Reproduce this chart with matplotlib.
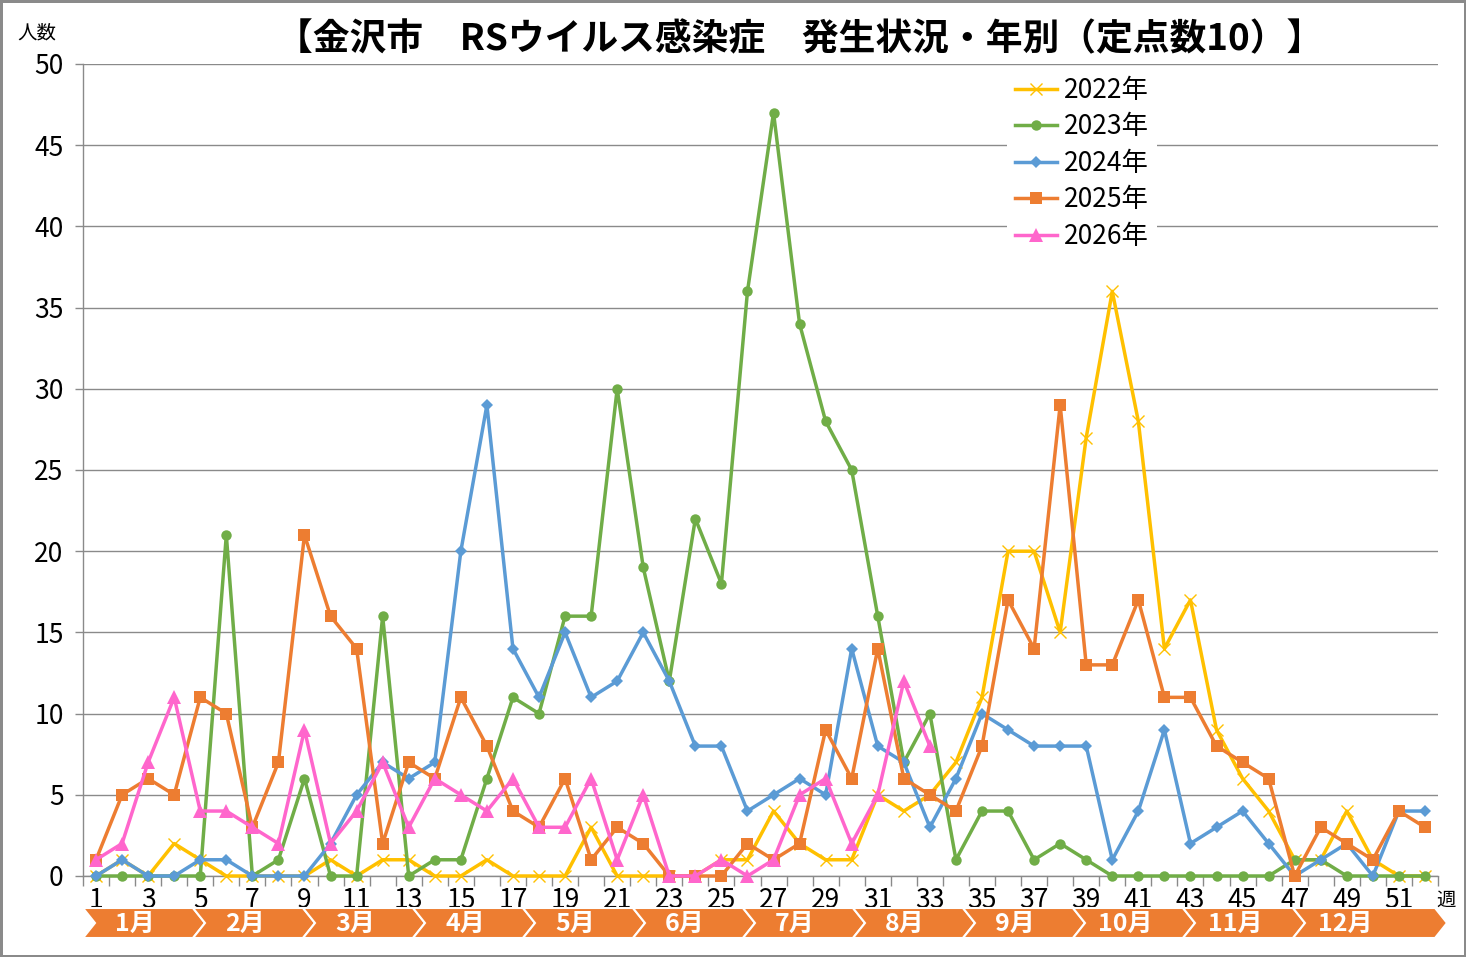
import numpy as np
import matplotlib
matplotlib.use("Agg")
import matplotlib.pyplot as plt
from matplotlib.patches import Polygon

plt.rcParams['font.family'] = ['Noto Sans CJK JP', 'DejaVu Sans']

# weekly case counts (week 1..52)
weeks = np.arange(1, 53)
cases_2022 = [0, 1, 0, 2, 1, 0, 0, 0, 0, 1, 0, 1, 1, 0, 0, 1, 0, 0, 0, 3,
              0, 0, 0, 0, 1, 1, 4, 2, 1, 1, 5, 4, 5, 7, 11, 20, 20, 15, 27, 36,
              28, 14, 17, 9, 6, 4, 1, 1, 4, 1, 0, 0]
cases_2023 = [0, 0, 0, 0, 0, 21, 0, 1, 6, 0, 0, 16, 0, 1, 1, 6, 11, 10, 16, 16,
              30, 19, 12, 22, 18, 36, 47, 34, 28, 25, 16, 7, 10, 1, 4, 4, 1, 2, 1, 0,
              0, 0, 0, 0, 0, 0, 1, 1, 0, 0, 0, 0]
cases_2024 = [0, 1, 0, 0, 1, 1, 0, 0, 0, 2, 5, 7, 6, 7, 20, 29, 14, 11, 15, 11,
              12, 15, 12, 8, 8, 4, 5, 6, 5, 14, 8, 7, 3, 6, 10, 9, 8, 8, 8, 1,
              4, 9, 2, 3, 4, 2, 0, 1, 2, 0, 4, 4]
cases_2025 = [1, 5, 6, 5, 11, 10, 3, 7, 21, 16, 14, 2, 7, 6, 11, 8, 4, 3, 6, 1,
              3, 2, 0, 0, 0, 2, 1, 2, 9, 6, 14, 6, 5, 4, 8, 17, 14, 29, 13, 13,
              17, 11, 11, 8, 7, 6, 0, 3, 2, 1, 4, 3]
cases_2026 = [1, 2, 7, 11, 4, 4, 3, 2, 9, 2, 4, 7, 3, 6, 5, 4, 6, 3, 3, 6,
              1, 5, 0, 0, 1, 0, 1, 5, 6, 2, 5, 12, 8]

series_labels = ['2022年', '2023年', '2024年', '2025年', '2026年']
month_labels = [f'{m}月' for m in range(1, 13)]
title = '【金沢市　RSウイルス感染症　発生状況・年別（定点数10）】'

W, H = 1466, 957
gray = '#8a8a8a'

fig = plt.figure(figsize=(W / 100, H / 100), dpi=100, linewidth=2.5, edgecolor=gray)
ax = fig.add_axes([83 / W, 1 - 876 / H, (1438 - 83) / W, (876 - 64) / H])

styles = [
    dict(color='#FFC000', marker='x', ms=8, mew=1.0),
    dict(color='#70AD47', marker='o', ms=7.5, mew=0),
    dict(color='#5B9BD5', marker='D', ms=6, mew=0),
    dict(color='#ED7D31', marker='s', ms=9, mew=0),
    dict(color='#FF66CC', marker='^', ms=10, mew=0),
]
all_cases = [cases_2022, cases_2023, cases_2024, cases_2025, cases_2026]
for i, (vals, lab, st) in enumerate(zip(all_cases, series_labels, styles)):
    ax.plot(weeks[:len(vals)], vals, lw=2.5, label=lab, zorder=3 + i, clip_on=False, **st)

ax.set_xlim(0.5, 52.5)
ax.set_ylim(0, 50)
ax.set_yticks(range(0, 51, 5))
ax.set_xticks(range(1, 53, 2))
ax.set_xticks(np.arange(0.5, 53, 1), minor=True)
ax.tick_params(axis='x', which='major', length=0, labelsize=19, pad=8)
ax.tick_params(axis='x', which='minor', length=7, color=gray, width=1)
ax.tick_params(axis='y', length=6, color=gray, width=1, labelsize=19, pad=8)
ax.grid(axis='y', color=gray, lw=1)
ax.set_axisbelow(True)
for s in ['top', 'right']:
    ax.spines[s].set_visible(False)
for s in ['left', 'bottom']:
    ax.spines[s].set_color(gray)
    ax.spines[s].set_linewidth(1)

leg = ax.legend(loc='upper left', bbox_to_anchor=(1007 / W, 1 - 69 / H),
                bbox_transform=fig.transFigure, fontsize=19, frameon=True,
                facecolor='white', edgecolor='none', framealpha=1,
                handlelength=1.6, handletextpad=0.25, labelspacing=0.36,
                borderpad=0.3, borderaxespad=0, fancybox=False)
leg.set_zorder(20)

# overlay in pixel coordinates for title, labels and month bar
ov = fig.add_axes([0, 0, 1, 1])
ov.set_xlim(0, W)
ov.set_ylim(H, 0)
ov.axis('off')

ov.text(800, 40, title, ha='center', va='center', fontsize=26.5, fontweight='bold')
ov.text(37, 33, '人数', ha='center', va='center', fontsize=14)
ov.text(1446, 900, '週', ha='center', va='center', fontsize=14)

for i, lab in enumerate(month_labels):
    x0 = 83 + 110 * i
    x1 = x0 + 110 if i < 11 else 1435
    pts = [(x0, 908), (x1, 908), (x1 + 12, 923), (x1, 938), (x0, 938), (x0 + 12, 923)]
    ov.add_patch(Polygon(pts, closed=True, facecolor='#ED7D31', edgecolor='white', lw=1.5))
    ov.text(x0 + 52, 924, lab, color='white', fontsize=18, fontweight='bold',
            ha='center', va='center')

fig.savefig('out.png', dpi=100)
